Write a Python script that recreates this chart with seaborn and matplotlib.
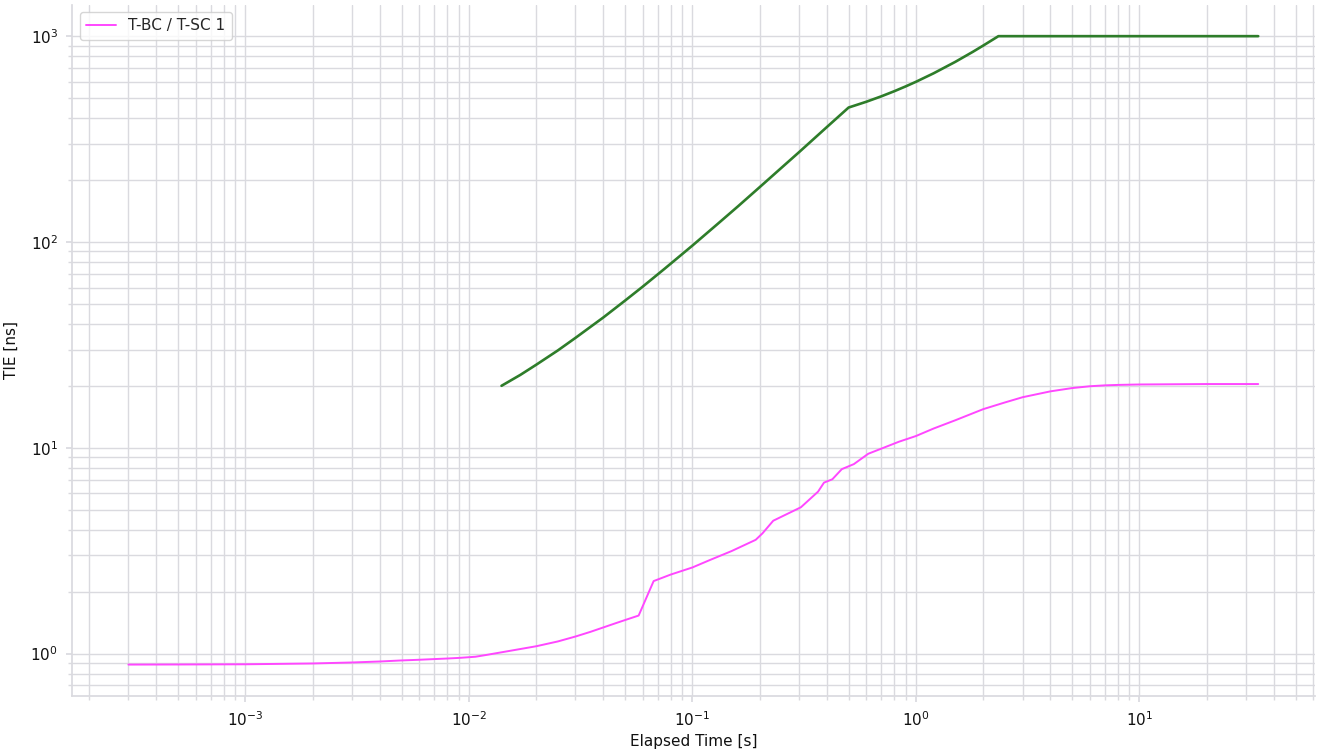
import numpy as np
import pandas as pd
import matplotlib
matplotlib.use("Agg")
import matplotlib.pyplot as plt
import seaborn as sns

# measured TIE curve (T-BC / T-SC 1)
tie_time = [3.0e-4, 5.0e-4, 1.0e-3, 2.0e-3, 3.0e-3, 4.0e-3, 4.9e-3, 6.0e-3, 7.0e-3,
            8.0e-3, 9.1e-3, 0.0107, 0.012, 0.0152, 0.020, 0.025, 0.030, 0.035,
            0.040, 0.045, 0.050, 0.0575, 0.0671, 0.080, 0.100, 0.120, 0.150,
            0.192, 0.206, 0.230, 0.306, 0.365, 0.388, 0.423, 0.466, 0.528, 0.612,
            0.70, 0.840, 1.0, 1.2, 1.5, 2.0, 2.5, 3.0, 4.0, 5.0, 6.0, 7.0, 8.0,
            10.0, 20.0, 34.0]
tie_ns = [0.884, 0.885, 0.887, 0.895, 0.905, 0.915, 0.925, 0.933, 0.94,
          0.946, 0.953, 0.965, 0.985, 1.03, 1.085, 1.145, 1.21, 1.275,
          1.34, 1.40, 1.455, 1.53, 2.25, 2.42, 2.62, 2.85, 3.15,
          3.57, 3.84, 4.42, 5.14, 6.12, 6.77, 7.03, 7.87, 8.33, 9.35,
          9.9, 10.7, 11.4, 12.4, 13.6, 15.4, 16.6, 17.6, 18.8, 19.5, 19.9, 20.1, 20.2,
          20.3, 20.4, 20.4]

# TIE mask
mask_time = [0.014, 0.017, 0.020, 0.025, 0.030, 0.040, 0.050, 0.060, 0.075, 0.10,
             0.13, 0.16, 0.20, 0.25, 0.30, 0.40, 0.50, 0.60, 0.70, 0.80, 0.90,
             1.0, 1.2, 1.5, 1.8, 2.0, 2.34, 5.0, 10.0, 34.0]
mask_ns = [20.0, 22.6, 25.3, 29.7, 34.2, 43.0, 51.9, 60.7, 74.0, 96.0,
           122.6, 149.0, 184.6, 229.0, 273.0, 362.0, 450.0, 480.0, 510.0, 540.0, 570.0,
           600.0, 660.0, 750.0, 840.0, 900.0, 1000.0, 1000.0, 1000.0, 1000.0]

sns.set_theme(style="whitegrid")
plt.rcParams['font.family'] = ['DejaVu Sans']

grid_col = '#dadadf'

fig = plt.figure(figsize=(13.2, 7.53), dpi=100)
ax = fig.add_axes([0.0545, 0.0757, 0.9415, 0.918])

df_tie = pd.DataFrame({'t': tie_time, 'v': tie_ns})
df_mask = pd.DataFrame({'t': mask_time, 'v': mask_ns})

sns.lineplot(data=df_tie, x='t', y='v', ax=ax, color='#ff47ff', lw=1.4,
             sort=False, estimator=None, label='T-BC / T-SC 1')
sns.lineplot(data=df_mask, x='t', y='v', ax=ax, color='#2e7d2a', lw=1.9,
             sort=False, estimator=None, label='_mask')

ax.set_xscale('log')
ax.set_yscale('log')
ax.margins(x=0.05, y=0.05)

ax.grid(True, which='both', color=grid_col, lw=1.0)
sns.despine(ax=ax, top=True, right=True)
for s in ax.spines.values():
    s.set_color(grid_col)
ax.tick_params(which='both', bottom=True, left=True, color=grid_col,
               labelsize=11, length=4, pad=6, labelcolor='#111111')
ax.tick_params(which='minor', length=3)

ax.set_xlabel("Elapsed Time [s]", fontsize=11, labelpad=4, color='#111111')
ax.set_ylabel("TIE [ns]", fontsize=11, labelpad=8, color='#111111')

leg = ax.legend(loc='upper left', fontsize=11, frameon=True)
leg.get_frame().set_edgecolor('#cccccc')

fig.savefig("out.png", dpi=100)
